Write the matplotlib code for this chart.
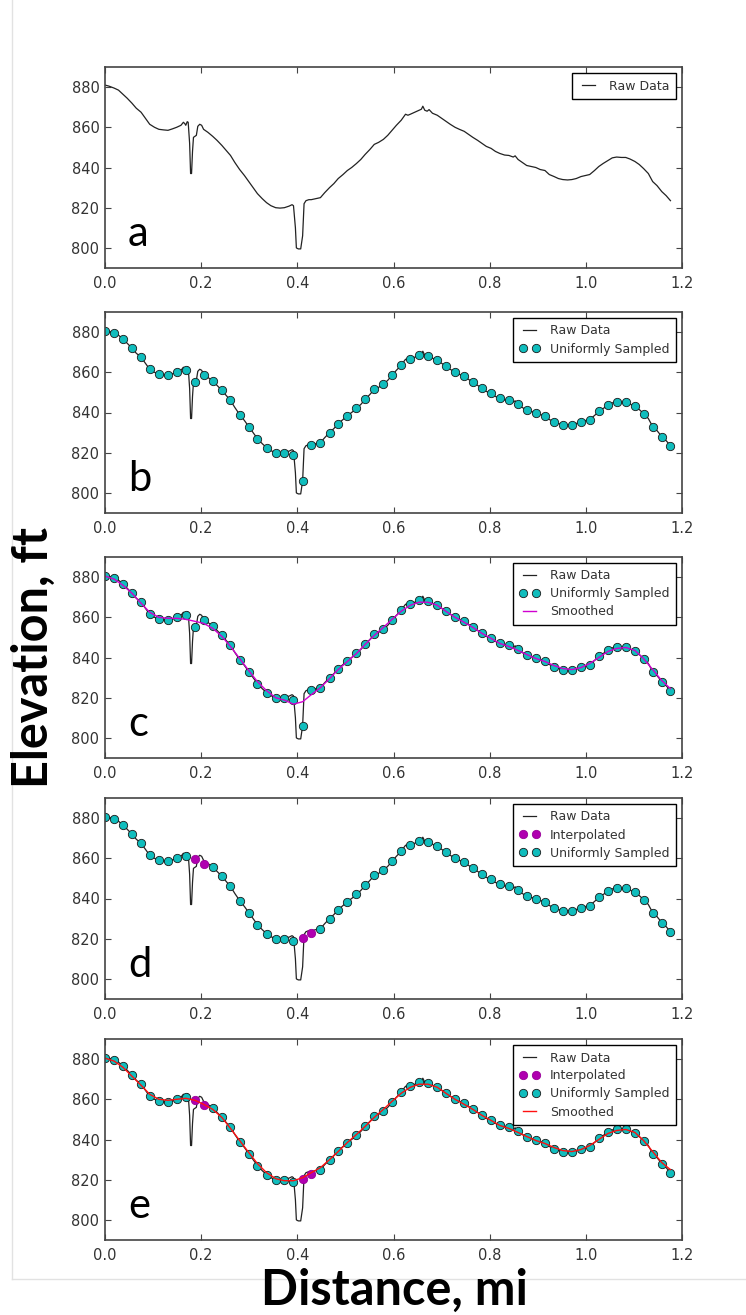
import numpy as np
import matplotlib
matplotlib.use("Agg")
import matplotlib.pyplot as plt
from matplotlib.lines import Line2D

# Raw elevation profile (distance in mi, elevation in ft)
raw_x = [0.000, 0.008, 0.019, 0.028, 0.037, 0.046, 0.056, 0.065, 0.075, 0.084,
         0.093, 0.103, 0.112, 0.122, 0.131, 0.140, 0.149, 0.158, 0.163, 0.166,
         0.168, 0.171, 0.173, 0.176, 0.178, 0.180, 0.182, 0.184, 0.187, 0.190,
         0.193, 0.197, 0.201, 0.205, 0.214, 0.224, 0.233, 0.243, 0.252, 0.261,
         0.270, 0.280, 0.290, 0.299, 0.308, 0.317, 0.327, 0.336, 0.345, 0.355,
         0.364, 0.373, 0.383, 0.389, 0.392, 0.396, 0.398, 0.402, 0.407, 0.411,
         0.414, 0.418, 0.424, 0.429, 0.438, 0.448, 0.457, 0.467, 0.476, 0.485,
         0.495, 0.504, 0.513, 0.523, 0.532, 0.541, 0.551, 0.560, 0.569, 0.579,
         0.588, 0.597, 0.606, 0.616, 0.625, 0.630, 0.635, 0.644, 0.653, 0.658,
         0.661, 0.665, 0.670, 0.674, 0.681, 0.691, 0.700, 0.709, 0.718, 0.728,
         0.737, 0.747, 0.756, 0.765, 0.775, 0.784, 0.793, 0.803, 0.812, 0.821,
         0.831, 0.840, 0.849, 0.853, 0.859, 0.868, 0.877, 0.886, 0.896, 0.905,
         0.915, 0.924, 0.934, 0.943, 0.952, 0.962, 0.971, 0.980, 0.990, 0.999,
         1.008, 1.018, 1.027, 1.036, 1.046, 1.055, 1.064, 1.074, 1.083, 1.092,
         1.102, 1.111, 1.120, 1.130, 1.139, 1.148, 1.158, 1.167, 1.176]
raw_y = [881.0, 880.5, 879.5, 878.5, 876.5, 874.5, 872.0, 869.5, 867.5, 864.5,
         861.5, 860.0, 859.0, 858.7, 858.5, 859.2, 860.0, 861.0, 862.5, 861.8,
         861.0, 862.8, 862.5, 852.0, 837.0, 837.0, 848.0, 855.0, 855.5, 856.0,
         860.5, 861.5, 861.0, 859.0, 857.5, 855.5, 853.5, 851.0, 848.5, 846.0,
         842.5, 839.0, 836.0, 833.0, 830.0, 827.0, 824.5, 822.5, 821.0, 820.0,
         819.8, 820.0, 820.8, 821.5, 821.0, 810.0, 800.0, 799.5, 799.5, 806.0,
         822.0, 823.5, 824.0, 824.0, 824.5, 825.0, 827.5, 830.0, 832.0, 834.5,
         836.5, 838.5, 840.0, 842.0, 844.0, 846.5, 849.0, 851.5, 852.5, 854.0,
         856.0, 858.5, 861.0, 863.5, 866.5, 866.0, 866.5, 867.5, 868.5, 869.0,
         870.5, 868.5, 868.0, 868.8, 867.0, 866.0, 864.5, 863.0, 861.5, 860.0,
         859.0, 858.0, 856.5, 855.0, 853.5, 852.0, 850.5, 849.5, 848.0, 847.0,
         846.2, 846.0, 845.2, 845.8, 844.0, 842.5, 841.0, 840.5, 840.0, 839.0,
         838.5, 836.5, 835.5, 834.5, 834.0, 833.8, 834.0, 834.5, 835.5, 836.0,
         836.5, 838.5, 840.5, 842.0, 843.5, 844.8, 845.2, 845.0, 845.0, 844.2,
         843.0, 841.5, 839.5, 837.0, 833.0, 831.0, 828.0, 826.0, 823.5]

# Uniformly sampled points (panel b / c)
sample_x = [0.000, 0.019, 0.037, 0.056, 0.075, 0.093, 0.112, 0.131, 0.149, 0.168,
            0.187, 0.205, 0.224, 0.243, 0.261, 0.280, 0.299, 0.317, 0.336, 0.355,
            0.373, 0.392, 0.411, 0.429, 0.448, 0.467, 0.485, 0.504, 0.523, 0.541,
            0.560, 0.579, 0.597, 0.616, 0.635, 0.653, 0.672, 0.691, 0.709, 0.728,
            0.747, 0.765, 0.784, 0.803, 0.821, 0.840, 0.859, 0.877, 0.896, 0.915,
            0.934, 0.952, 0.971, 0.990, 1.008, 1.027, 1.046, 1.064, 1.083, 1.102,
            1.120, 1.139, 1.158, 1.176]
sample_y = [880.5, 879.5, 876.5, 872.0, 867.5, 861.5, 859.0, 858.5, 860.0, 861.0,
            855.0, 858.5, 855.5, 851.0, 846.0, 839.0, 833.0, 827.0, 822.5, 820.0,
            820.0, 819.0, 806.0, 824.0, 825.0, 830.0, 834.5, 838.5, 842.0, 846.5,
            851.5, 854.0, 858.5, 863.5, 866.5, 868.5, 868.0, 866.0, 863.0, 860.0,
            858.0, 855.0, 852.0, 849.5, 847.0, 846.0, 844.0, 841.0, 840.0, 838.5,
            835.5, 834.0, 834.0, 835.5, 836.5, 840.5, 843.5, 845.0, 845.0, 843.0,
            839.5, 833.0, 828.0, 823.5]

# Smoothed curve of panel c (at the sample positions)
smooth_c = [880.5, 879.0, 876.0, 872.0, 867.0, 862.5, 860.0, 859.5, 859.5, 859.0,
            858.0, 857.0, 854.5, 850.5, 845.5, 839.5, 833.5, 828.0, 823.5, 820.0,
            818.8, 816.8, 818.0, 821.5, 825.0, 829.5, 834.0, 838.0, 842.0, 846.5,
            851.0, 855.0, 859.0, 863.0, 866.0, 867.5, 867.5, 866.0, 863.0, 860.0,
            857.5, 855.0, 852.0, 849.5, 847.0, 845.5, 843.5, 841.5, 839.5, 838.0,
            836.0, 834.5, 834.0, 835.0, 837.0, 840.0, 843.0, 844.5, 845.0, 843.5,
            839.5, 834.0, 828.5, 824.5]

# Points replaced by interpolation (panels d / e)
interp_idx = [10, 11, 22, 23]
interp_y = [859.5, 857.0, 820.5, 823.0]

# Smoothed curve of panel e
smooth_e = [880.5, 879.0, 876.0, 871.5, 867.0, 862.5, 860.0, 859.5, 860.0, 860.5,
            859.5, 857.5, 855.0, 851.0, 845.5, 839.5, 833.5, 828.0, 823.5, 820.5,
            819.5, 819.5, 821.0, 823.5, 826.0, 830.0, 834.0, 838.5, 842.5, 846.5,
            851.0, 855.0, 859.0, 863.0, 866.0, 867.5, 867.5, 866.0, 863.0, 860.0,
            857.5, 855.0, 852.0, 849.5, 847.0, 845.5, 843.5, 841.5, 839.5, 838.0,
            836.0, 834.5, 834.0, 835.0, 837.0, 840.0, 843.0, 844.5, 845.0, 843.5,
            839.5, 834.0, 828.5, 825.0]

panel_letters = ["a", "b", "c", "d", "e"]
x_ticks = [0.0, 0.2, 0.4, 0.6, 0.8, 1.0, 1.2]
y_ticks = [800, 820, 840, 860, 880]

sx = np.array(sample_x)
sy = np.array(sample_y)
keep = np.array([i not in interp_idx for i in range(len(sx))])
ix = sx[interp_idx]

W, H = 746, 1315
fig = plt.figure(figsize=(W / 100, H / 100), dpi=100)

tops = [67, 312, 557, 798, 1039]
left, right, ax_h = 105, 682, 201

raw_kw = dict(color="#222222", lw=0.9, label="Raw Data")
cyan_kw = dict(ls="none", marker="o", ms=6, mfc="#10BDBD", mec="#1a1a1a", mew=0.6,
               label="Uniformly Sampled")
mag_kw = dict(ls="none", marker="o", ms=6, mfc="#B000B0", mec="#9a009a", mew=0.6,
              label="Interpolated")

for k, top in enumerate(tops):
    ax = fig.add_axes([left / W, 1 - (top + ax_h) / H, (right - left) / W, ax_h / H])
    ax.plot(raw_x, raw_y, **raw_kw)
    if k == 1:
        ax.plot(sx, sy, **cyan_kw)
    elif k == 2:
        ax.plot(sx, sy, **cyan_kw)
        ax.plot(sx, smooth_c, color="#D000D0", lw=1.0, label="Smoothed")
    elif k >= 3:
        ax.plot(ix, interp_y, **mag_kw)
        ax.plot(sx[keep], sy[keep], **cyan_kw)
        if k == 4:
            ax.plot(sx, smooth_e, color="#FF1010", lw=1.0, label="Smoothed")

    ax.set_xlim(0, 1.2)
    ax.set_ylim(790, 890)
    ax.set_xticks(x_ticks)
    ax.set_yticks(y_ticks)
    ax.tick_params(direction="in", top=True, right=True, length=4, width=0.8,
                   color="#444444", labelcolor="#333333", labelsize=10.5)
    ax.tick_params(axis="x", pad=6)
    ax.tick_params(axis="y", pad=4)
    for sp in ax.spines.values():
        sp.set_linewidth(1.2)
        sp.set_color("#444444")

    leg = ax.legend(loc="upper right", numpoints=2, fontsize=9, fancybox=False,
                    edgecolor="black", framealpha=1, handlelength=1.7,
                    handletextpad=0.8, borderpad=0.5, labelspacing=0.4,
                    borderaxespad=0.5)
    leg.get_frame().set_linewidth(1.0)
    for t in leg.get_texts():
        t.set_color("#333333")

    ax.text(0.04, 0.11, panel_letters[k], transform=ax.transAxes, fontsize=30,
            family="Lato", color="black")

# faint frame of the original picture
fig.add_artist(Line2D([12 / W, 12 / W], [1, 1 - 1279 / H], color="#e2e2e2", lw=1))
fig.add_artist(Line2D([12 / W, 1], [1 - 1279 / H, 1 - 1279 / H], color="#e2e2e2", lw=1))

fig.text(33 / W, 1 - 657 / H, "Elevation, ft", rotation=90, ha="center", va="center",
         fontsize=35, fontweight="bold", family="Lato")
fig.text(394 / W, 1 - 1290 / H, "Distance, mi", ha="center", va="center",
         fontsize=35, fontweight="bold", family="Lato")

fig.savefig("out.png", dpi=100)
